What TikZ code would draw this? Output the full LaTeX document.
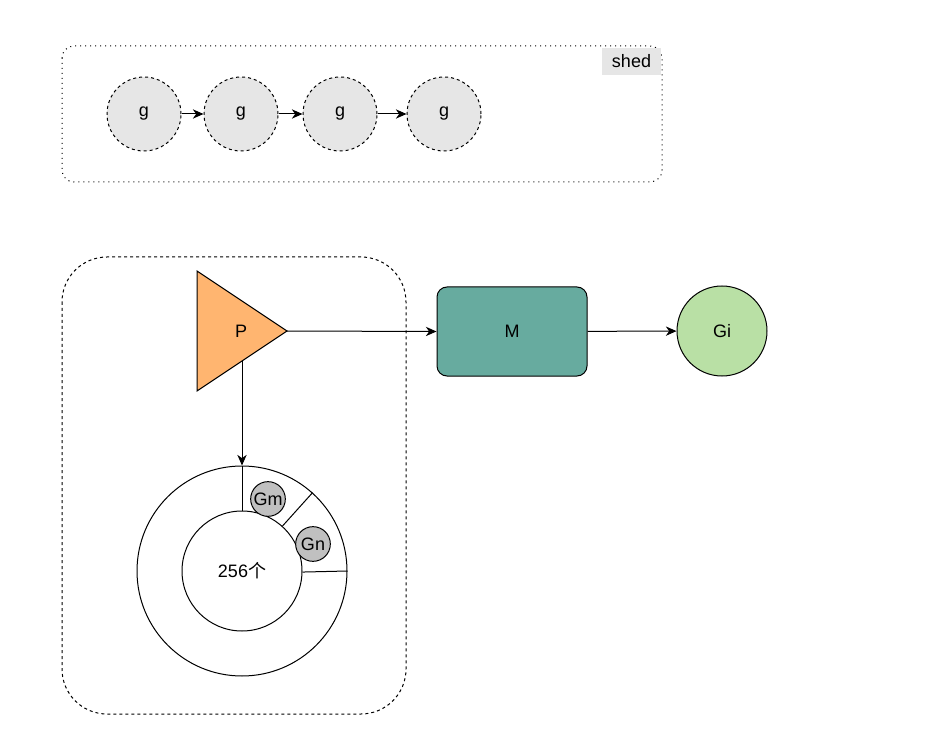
\documentclass[tikz,border=0pt]{standalone}
\usepackage{fontspec}
\setmainfont{Liberation Sans}
\newfontfamily\cjk{Noto Sans CJK SC}
\usepackage{xcolor}
\usepackage{tikz}
\usetikzlibrary{arrows.meta,positioning}
\definecolor{porange}{HTML}{FFB570}
\definecolor{mteal}{HTML}{67AB9F}
\definecolor{gigreen}{HTML}{B9E0A5}
\definecolor{shedgray}{HTML}{E6E6E6}
\definecolor{ggray}{HTML}{C0C0C0}
\tikzset{
  gnode/.style={circle, draw, dash pattern=on 2.25pt off 2.25pt, fill=shedgray, minimum size=55.5pt, inner sep=0pt},
  slotg/.style={circle, draw, fill=ggray, minimum size=26pt, inner sep=0pt},
}

\begin{document}
\begin{tikzpicture}[x=0.75pt, y=-0.75pt, line width=0.75pt, font=\fontsize{13.5}{16}\selectfont,
  >={Stealth[length=8pt,width=7pt,inset=2.5pt]}]
\useasboundingbox (0,0) rectangle (938,741);
\draw[dash pattern=on 0.75pt off 3pt, rounded corners=9pt] (62,46) rectangle (662,182);
\node[fill=shedgray, minimum width=44.25pt, minimum height=20.25pt, inner sep=0pt] (shed) at (631.5,61.5) {shed};
\node[gnode] (g1) at (144,114) {g};
\node[gnode] (g2) at (241,114) {g};
\node[gnode] (g3) at (340,114) {g};
\node[gnode] (g4) at (444,114) {g};
\draw[->] (g1) -- (g2);
\draw[->] (g2) -- (g3);
\draw[->] (g3) -- (g4);
\draw[dash pattern=on 2.25pt off 2.25pt, rounded corners=33.75pt] (62,257) rectangle (406,714);
\draw[fill=porange] (197,271) -- (287,331) -- (197,391) -- cycle;
\node (P) at (241,331) {P};
\coordinate (Ptip) at (287,331);
\coordinate (Pbot) at (242,361);
\node[draw, fill=mteal, rounded corners=7.5pt, minimum width=112.5pt, minimum height=66.75pt, inner sep=0pt] (M) at (512,331.5) {M};
\node[circle, draw, fill=gigreen, minimum size=67.5pt, inner sep=0pt] (Gi) at (722,331) {Gi};
\draw[->] (Ptip) -- (M.west);
\draw[->] (M) -- (Gi);
\node[circle, draw, minimum size=157.5pt, inner sep=0pt] (ring) at (242,571) {};
\node[circle, draw, minimum size=90pt, inner sep=0pt] (core) at (242,571) {256{\cjk 个}};
\draw[->] (Pbot) -- (ring.north);
\draw (core.north) -- (ring.north);
\draw (core.48) -- (ring.48);
\draw (core.-1.5) -- (ring.0.4);
\node[slotg] (Gm) at (268,499) {Gm};
\node[slotg] (Gn) at (313,544) {Gn};
\end{tikzpicture}
\end{document}
